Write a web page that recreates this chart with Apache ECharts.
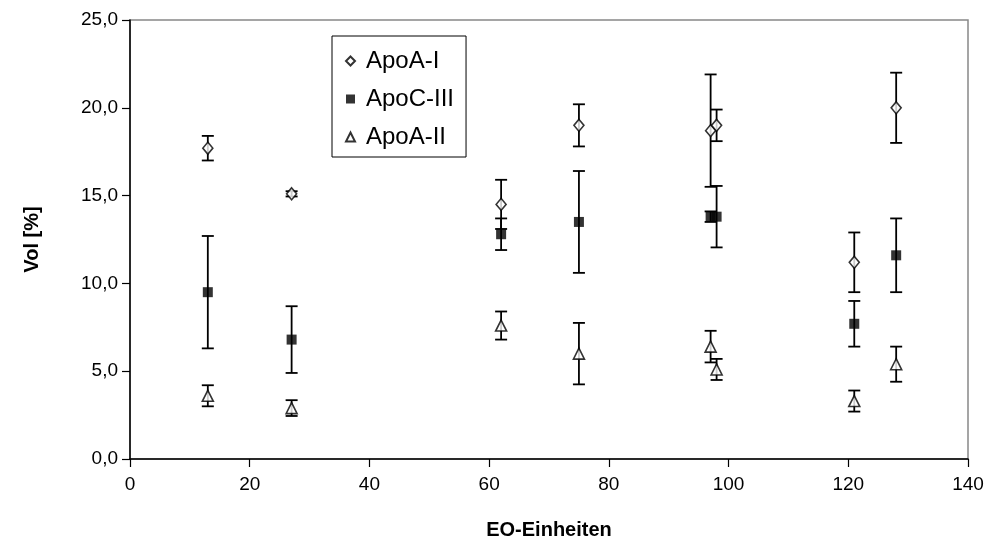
<!DOCTYPE html>
<html>
<head>
<meta charset="utf-8">
<script src="https://cdn.jsdelivr.net/npm/echarts@6/dist/echarts.min.js"></script>
<style>
  html, body { margin: 0; padding: 0; background: #fff; }
  #chart { width: 994px; height: 542px; }
</style>
</head>
<body>
<div id="chart"></div>
<script>
// EO units (x positions of the measurements)
const eoUnits = [13, 27, 62, 75, 97, 98, 121, 128];

// Mean volume share [%] and error (±) for each apolipoprotein
const apoA1 = [17.7, 15.1, 14.5, 19.0, 18.7, 19.0, 11.2, 20.0];
const apoA1Err = [0.7, 0.15, 1.4, 1.2, 3.2, 0.9, 1.7, 2.0];

const apoC3 = [9.5, 6.8, 12.8, 13.5, 13.8, 13.8, 7.7, 11.6];
const apoC3Err = [3.2, 1.9, 0.9, 2.9, 0.3, 1.75, 1.3, 2.1];

const apoA2 = [3.6, 2.9, 7.6, 6.0, 6.4, 5.1, 3.3, 5.4];
const apoA2Err = [0.6, 0.45, 0.8, 1.75, 0.9, 0.6, 0.6, 1.0];

const seriesNames = ['ApoA-I', 'ApoC-III', 'ApoA-II'];

const FONT = "'Liberation Sans', Arial, sans-serif";

function points(values) {
  return eoUnits.map((x, i) => [x, values[i]]);
}
function ranges(values, errs) {
  return eoUnits.map((x, i) => [x, values[i] - errs[i], values[i] + errs[i]]);
}

// Vertical error bar with horizontal caps
function renderErrorBar(params, api) {
  const x = api.value(0);
  const lo = api.coord([x, api.value(1)]);
  const hi = api.coord([x, api.value(2)]);
  const hw = 6;
  const style = { stroke: '#000', lineWidth: 1.8 };
  return {
    type: 'group',
    children: [
      { type: 'line', shape: { x1: lo[0], y1: lo[1], x2: hi[0], y2: hi[1] }, style },
      { type: 'line', shape: { x1: hi[0] - hw, y1: hi[1], x2: hi[0] + hw, y2: hi[1] }, style },
      { type: 'line', shape: { x1: lo[0] - hw, y1: lo[1], x2: lo[0] + hw, y2: lo[1] }, style }
    ]
  };
}

function errorSeries(values, errs) {
  return {
    type: 'custom',
    renderItem: renderErrorBar,
    data: ranges(values, errs),
    encode: { x: 0, y: [1, 2] },
    z: 2,
    silent: true
  };
}

const markerStyle = { color: '#fff', borderColor: '#000', borderWidth: 1.6 };

const chart = echarts.init(document.getElementById('chart'));
chart.setOption({
  backgroundColor: '#fff',
  animation: false,
  textStyle: { fontFamily: FONT },
  grid: {
    left: 130, right: 26, top: 20, bottom: 83,
    outerBoundsMode: 'none',
    containLabel: false,
    show: true, borderColor: '#888', borderWidth: 1.5, backgroundColor: 'transparent'
  },
  legend: {
    data: seriesNames,
    orient: 'vertical',
    left: 332, top: 36,
    padding: [13, 12, 8, 13],
    itemGap: 14,
    itemWidth: 9, itemHeight: 9,
    borderColor: '#000', borderWidth: 1,
    backgroundColor: '#fff',
    textStyle: { fontFamily: FONT, fontSize: 24, color: '#000', padding: [0, 0, 0, 6] }
  },
  xAxis: {
    type: 'value',
    min: 0, max: 140, interval: 20,
    name: 'EO-Einheiten',
    nameLocation: 'middle',
    nameGap: 61,
    nameTextStyle: { fontFamily: FONT, fontSize: 20, fontWeight: 'bold', color: '#000' },
    axisLine: { lineStyle: { color: '#000', width: 1.5 } },
    axisTick: { show: true, inside: false, length: 8, lineStyle: { color: '#000', width: 1.2 } },
    axisLabel: { fontFamily: FONT, fontSize: 19, color: '#000', margin: 16 },
    splitLine: { show: false }
  },
  yAxis: {
    type: 'value',
    min: 0, max: 25, interval: 5,
    name: 'Vol [%]',
    nameLocation: 'middle',
    nameGap: 88,
    nameTextStyle: { fontFamily: FONT, fontSize: 20, fontWeight: 'bold', color: '#000' },
    axisLine: { show: true, lineStyle: { color: '#000', width: 1.5 } },
    axisTick: { show: true, inside: false, length: 8, lineStyle: { color: '#000', width: 1.2 } },
    axisLabel: {
      fontFamily: FONT, fontSize: 19, color: '#000', margin: 12,
      formatter: v => v.toFixed(1).replace('.', ',')
    },
    splitLine: { show: false }
  },
  series: [
    errorSeries(apoA1, apoA1Err),
    errorSeries(apoC3, apoC3Err),
    errorSeries(apoA2, apoA2Err),
    {
      name: 'ApoA-I', type: 'scatter', symbol: 'diamond', symbolSize: [10, 12],
      itemStyle: markerStyle, data: points(apoA1), z: 5
    },
    {
      name: 'ApoC-III', type: 'scatter', symbol: 'rect', symbolSize: 10,
      itemStyle: { color: '#000', borderColor: '#000', borderWidth: 0 }, data: points(apoC3), z: 5
    },
    {
      name: 'ApoA-II', type: 'scatter', symbol: 'triangle', symbolSize: 11,
      itemStyle: markerStyle, data: points(apoA2), z: 5
    }
  ]
});
</script>
</body>
</html>
